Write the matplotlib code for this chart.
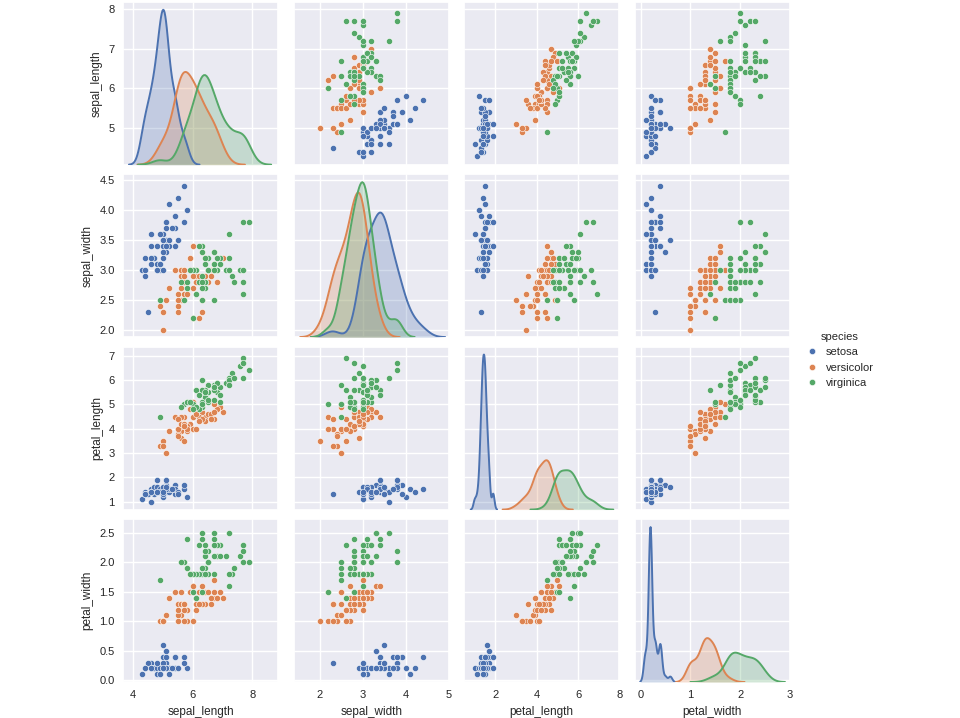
import numpy as np
import matplotlib
matplotlib.use("Agg")
import matplotlib.pyplot as plt
import seaborn as sns
from matplotlib.lines import Line2D

# ---------------- data (iris) ----------------
variables = ["sepal_length", "sepal_width", "petal_length", "petal_width"]
species_names = ["setosa", "versicolor", "virginica"]

setosa = [
    [5.1,3.5,1.4,0.2],[4.9,3.0,1.4,0.2],[4.7,3.2,1.3,0.2],[4.6,3.1,1.5,0.2],[5.0,3.6,1.4,0.2],
    [5.4,3.9,1.7,0.4],[4.6,3.4,1.4,0.3],[5.0,3.4,1.5,0.2],[4.4,2.9,1.4,0.2],[4.9,3.1,1.5,0.1],
    [5.4,3.7,1.5,0.2],[4.8,3.4,1.6,0.2],[4.8,3.0,1.4,0.1],[4.3,3.0,1.1,0.1],[5.8,4.0,1.2,0.2],
    [5.7,4.4,1.5,0.4],[5.4,3.9,1.3,0.4],[5.1,3.5,1.4,0.3],[5.7,3.8,1.7,0.3],[5.1,3.8,1.5,0.3],
    [5.4,3.4,1.7,0.2],[5.1,3.7,1.5,0.4],[4.6,3.6,1.0,0.2],[5.1,3.3,1.7,0.5],[4.8,3.4,1.9,0.2],
    [5.0,3.0,1.6,0.2],[5.0,3.4,1.6,0.4],[5.2,3.5,1.5,0.2],[5.2,3.4,1.4,0.2],[4.7,3.2,1.6,0.2],
    [4.8,3.1,1.6,0.2],[5.4,3.4,1.5,0.4],[5.2,4.1,1.5,0.1],[5.5,4.2,1.4,0.2],[4.9,3.1,1.5,0.2],
    [5.0,3.2,1.2,0.2],[5.5,3.5,1.3,0.2],[4.9,3.6,1.4,0.1],[4.4,3.0,1.3,0.2],[5.1,3.4,1.5,0.2],
    [5.0,3.5,1.3,0.3],[4.5,2.3,1.3,0.3],[4.4,3.2,1.3,0.2],[5.0,3.5,1.6,0.6],[5.1,3.8,1.9,0.4],
    [4.8,3.0,1.4,0.3],[5.1,3.8,1.6,0.2],[4.6,3.2,1.4,0.2],[5.3,3.7,1.5,0.2],[5.0,3.3,1.4,0.2],
]
versicolor = [
    [7.0,3.2,4.7,1.4],[6.4,3.2,4.5,1.5],[6.9,3.1,4.9,1.5],[5.5,2.3,4.0,1.3],[6.5,2.8,4.6,1.5],
    [5.7,2.8,4.5,1.3],[6.3,3.3,4.7,1.6],[4.9,2.4,3.3,1.0],[6.6,2.9,4.6,1.3],[5.2,2.7,3.9,1.4],
    [5.0,2.0,3.5,1.0],[5.9,3.0,4.2,1.5],[6.0,2.2,4.0,1.0],[6.1,2.9,4.7,1.4],[5.6,2.9,3.6,1.3],
    [6.7,3.1,4.4,1.4],[5.6,3.0,4.5,1.5],[5.8,2.7,4.1,1.0],[6.2,2.2,4.5,1.5],[5.6,2.5,3.9,1.1],
    [5.9,3.2,4.8,1.8],[6.1,2.8,4.0,1.3],[6.3,2.5,4.9,1.5],[6.1,2.8,4.7,1.2],[6.4,2.9,4.3,1.3],
    [6.6,3.0,4.4,1.4],[6.8,2.8,4.8,1.4],[6.7,3.0,5.0,1.7],[6.0,2.9,4.5,1.5],[5.7,2.6,3.5,1.0],
    [5.5,2.4,3.8,1.1],[5.5,2.4,3.7,1.0],[5.8,2.7,3.9,1.2],[6.0,2.7,5.1,1.6],[5.4,3.0,4.5,1.5],
    [6.0,3.4,4.5,1.6],[6.7,3.1,4.7,1.5],[6.3,2.3,4.4,1.3],[5.6,3.0,4.1,1.3],[5.5,2.5,4.0,1.3],
    [5.5,2.6,4.4,1.2],[6.1,3.0,4.6,1.4],[5.8,2.6,4.0,1.2],[5.0,2.3,3.3,1.0],[5.6,2.7,4.2,1.3],
    [5.7,3.0,4.2,1.2],[5.7,2.9,4.2,1.3],[6.2,2.9,4.3,1.3],[5.1,2.5,3.0,1.1],[5.7,2.8,4.1,1.3],
]
virginica = [
    [6.3,3.3,6.0,2.5],[5.8,2.7,5.1,1.9],[7.1,3.0,5.9,2.1],[6.3,2.9,5.6,1.8],[6.5,3.0,5.8,2.2],
    [7.6,3.0,6.6,2.1],[4.9,2.5,4.5,1.7],[7.3,2.9,6.3,1.8],[6.7,2.5,5.8,1.8],[7.2,3.6,6.1,2.5],
    [6.5,3.2,5.1,2.0],[6.4,2.7,5.3,1.9],[6.8,3.0,5.5,2.1],[5.7,2.5,5.0,2.0],[5.8,2.8,5.1,2.4],
    [6.4,3.2,5.3,2.3],[6.5,3.0,5.5,1.8],[7.7,3.8,6.7,2.2],[7.7,2.6,6.9,2.3],[6.0,2.2,5.0,1.5],
    [6.9,3.2,5.7,2.3],[5.6,2.8,4.9,2.0],[7.7,2.8,6.7,2.0],[6.3,2.7,4.9,1.8],[6.7,3.3,5.7,2.1],
    [7.2,3.2,6.0,1.8],[6.2,2.8,4.8,1.8],[6.1,3.0,4.9,1.8],[6.4,2.8,5.6,2.1],[7.2,3.0,5.8,1.6],
    [7.4,2.8,6.1,1.9],[7.9,3.8,6.4,2.0],[6.4,2.8,5.6,2.2],[6.3,2.8,5.1,1.5],[6.1,2.6,5.6,1.4],
    [7.7,3.0,6.1,2.3],[6.3,3.4,5.6,2.4],[6.4,3.1,5.5,1.8],[6.0,3.0,4.8,1.8],[6.9,3.1,5.4,2.1],
    [6.7,3.1,5.6,2.4],[6.9,3.1,5.1,2.3],[5.8,2.7,5.1,1.9],[6.8,3.2,5.9,2.3],[6.7,3.3,5.7,2.5],
    [6.7,3.0,5.2,2.3],[6.3,2.5,5.0,1.9],[6.5,3.0,5.2,2.0],[6.2,3.4,5.4,2.3],[5.9,3.0,5.1,1.8],
]

x_ticks = {
    "sepal_length": [4, 6, 8],
    "sepal_width": [2, 3, 4, 5],
    "petal_length": [2, 4, 6, 8],
    "petal_width": [0, 1, 2, 3],
}
y_ticks = {
    "sepal_length": [5, 6, 7, 8],
    "sepal_width": [2.0, 2.5, 3.0, 3.5, 4.0, 4.5],
    "petal_length": [1, 2, 3, 4, 5, 6, 7],
    "petal_width": [0.0, 0.5, 1.0, 1.5, 2.0, 2.5],
}
x_limits = {
    "sepal_length": (3.67, 8.87),
    "sepal_width": (1.39, 5.0),
    "petal_length": (0.49, 8.0),
    "petal_width": (-0.12, 3.0),
}
y_limits = {
    "sepal_length": (4.07, 8.18),
    "sepal_width": (1.88, 4.6),
    "petal_length": (0.67, 7.37),
    "petal_width": (-0.03, 2.73),
}

colors = ["#4C72B0", "#DD8452", "#55A868"]

# ---------------- style ----------------
sns.set_theme(style="darkgrid")
plt.rcParams["font.family"] = ["Liberation Sans", "DejaVu Sans"]
plt.rcParams["text.color"] = "#262626"
plt.rcParams["axes.labelcolor"] = "#262626"
plt.rcParams["xtick.color"] = "#262626"
plt.rcParams["ytick.color"] = "#262626"

FS = 8


def kde_curve(v):
    v = np.asarray(v, dtype=float)
    n = len(v)
    std = v.std(ddof=1)
    q75, q25 = np.percentile(v, [75, 25])
    a = min(std, (q75 - q25) / 1.349)
    bw = 1.059 * a * n ** (-0.2)
    grid = np.linspace(v.min() - 3 * bw, v.max() + 3 * bw, 100)
    dens = np.exp(-0.5 * ((grid[:, None] - v[None, :]) / bw) ** 2).sum(axis=1)
    dens /= n * bw * np.sqrt(2 * np.pi)
    return grid, dens


W, H = 960, 718
fig, axes = plt.subplots(4, 4, figsize=(W / 100, H / 100), dpi=100,
                         sharex="col", sharey="row")
fig.patch.set_facecolor("white")
left, right, top, bottom = 123 / W, 790 / W, 1 - 2 / H, 1 - 682 / H
fig.subplots_adjust(left=left, right=right, top=top, bottom=bottom,
                    wspace=0.097, hspace=0.06)

groups = [np.array(setosa), np.array(versicolor), np.array(virginica)]

for i, yv in enumerate(variables):
    for j, xv in enumerate(variables):
        ax = axes[i, j]
        ax.set_xlim(*x_limits[xv])
        ax.set_ylim(*y_limits[yv])
        ax.set_xticks(x_ticks[xv])
        ax.set_yticks(y_ticks[yv])
        ax.tick_params(labelsize=FS, pad=6, length=0)
        if i == j:
            tw = ax.twinx()
            tw.axis("off")
            mx = 0
            for g, c in zip(groups, colors):
                gx, gd = kde_curve(g[:, j])
                tw.fill_between(gx, 0, gd, color=c, alpha=0.25, lw=0)
                tw.plot(gx, gd, color=c, lw=1.4)
                mx = max(mx, gd.max())
            tw.set_ylim(0, mx * 1.05)
            tw.set_xlim(*x_limits[xv])
        else:
            for g, c in zip(groups, colors):
                ax.scatter(g[:, j], g[:, i], s=20, color=c,
                           edgecolor="white", linewidth=0.4, zorder=3)
        if j == 0:
            ax.set_ylabel(yv, fontsize=FS + 0.5, labelpad=4)
        if i == 3:
            ax.set_xlabel(xv, fontsize=FS + 0.5, labelpad=4)
            ax.xaxis.set_tick_params(labelbottom=True)

handles = [Line2D([], [], marker="o", linestyle="", markersize=4.5,
                  markerfacecolor=c, markeredgecolor="white",
                  markeredgewidth=0.4) for c in colors]
leg = fig.legend(handles, species_names, title="species",
                 loc="center left", bbox_to_anchor=(800 / W, 1 - 360 / H),
                 frameon=False, fontsize=FS, title_fontsize=FS,
                 handletextpad=0.6, labelspacing=0.5, borderpad=0,
                 handlelength=1.2)

fig.savefig("out.png", dpi=100, facecolor="white")
